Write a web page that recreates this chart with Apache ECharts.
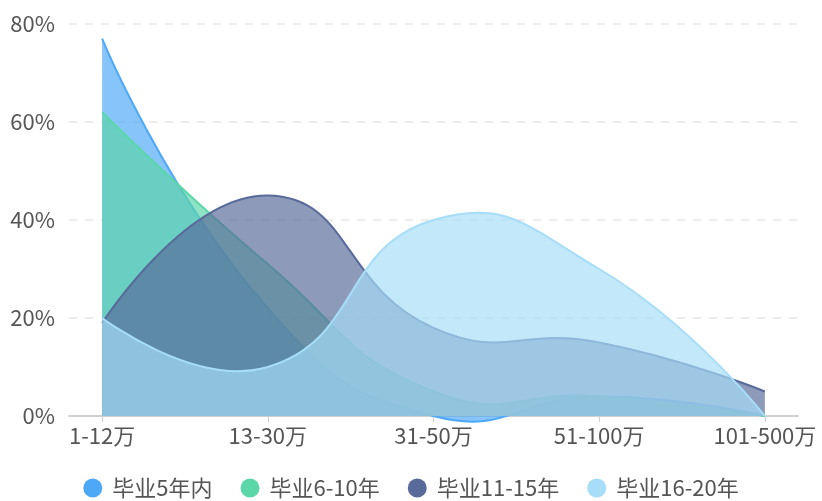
<!DOCTYPE html>
<html>
<head>
<meta charset="utf-8">
<script src="https://cdn.jsdelivr.net/npm/echarts@6/dist/echarts.min.js"></script>
<style>
  html, body { margin: 0; padding: 0; background: #fff; }
  #main { width: 822px; height: 501px; }
</style>
</head>
<body>
<div id="main"></div>
<script>
// 收入区间
var categories = ['1-12万', '13-30万', '31-50万', '51-100万', '101-500万'];
var seriesNames = ['毕业5年内', '毕业6-10年', '毕业11-15年', '毕业16-20年'];
// 各段占比 (%)
var within5 = [77, 22, 0, 4, 0];
var years6to10 = [62, 31, 5, 4, 0];
var years11to15 = [19, 45, 18, 15, 5];
var years16to20 = [20, 10, 40, 30, 0];
var yTicks = [0, 20, 40, 60, 80];

var colors = ['#4DA8F8', '#5BD6A8', '#586A9A', '#A6DDF8'];
var allData = [within5, years6to10, years11to15, years16to20];
var catIdx = categories.map(function (c, i) { return i; });

function toPoints(arr) {
  return arr.map(function (v, i) { return [i, v]; });
}

// 旧版平滑曲线 (允许越过极值)
function smoothPath(pts, smooth) {
  var d = 'M' + pts[0][0] + ',' + pts[0][1];
  var cp0 = pts[0].slice();
  for (var i = 1; i < pts.length; i++) {
    var p = pts[i], prev = pts[i - 1], next = pts[i + 1];
    var cp1, nextCp0;
    if (!next) {
      cp1 = p.slice();
    } else {
      var vx = next[0] - prev[0], vy = next[1] - prev[1];
      var lp = Math.hypot(p[0] - prev[0], p[1] - prev[1]);
      var ln = Math.hypot(next[0] - p[0], next[1] - p[1]);
      var r = ln / (ln + lp);
      cp1 = [p[0] - vx * smooth * (1 - r), p[1] - vy * smooth * (1 - r)];
      nextCp0 = [p[0] + vx * smooth * r, p[1] + vy * smooth * r];
    }
    d += 'C' + cp0.join(',') + ' ' + cp1.join(',') + ' ' + p.join(',');
    cp0 = nextCp0;
  }
  return d;
}

function makeRender(k) {
  return function (params, api) {
    if (params.dataIndex !== 0) return;
    var pts = allData[k].map(function (v, i) { return api.coord([i, v]); });
    var base = api.coord([0, 0])[1];
    var line = smoothPath(pts, 0.5);
    var first = pts[0], last = pts[pts.length - 1];
    var area = line + 'L' + last[0] + ',' + base + 'L' + first[0] + ',' + base + 'Z';
    return {
      type: 'group',
      children: [
        { type: 'path', shape: { pathData: area }, style: { fill: colors[k], opacity: 0.68 } },
        { type: 'path', shape: { pathData: line }, style: { fill: 'none', stroke: colors[k], lineWidth: 2 } }
      ]
    };
  };
}

var chart = echarts.init(document.getElementById('main'));
chart.setOption({
  animation: false,
  color: colors,
  textStyle: { fontFamily: '"Noto Sans CJK SC", "Noto Sans", sans-serif' },
  grid: { left: 69, right: 24, top: 24, bottom: 85 },
  legend: {
    bottom: -3,
    left: 'center',
    icon: 'circle',
    itemWidth: 19,
    itemHeight: 19,
    itemGap: 28,
    textStyle: { fontSize: 22, color: '#555', padding: [0, 0, 0, 5] },
    data: seriesNames
  },
  xAxis: {
    type: 'value',
    min: -0.2,
    max: 4.2,
    splitLine: { show: false },
    axisLine: { show: true, lineStyle: { color: '#d0d0d0', width: 2 } },
    axisTick: { show: true, customValues: catIdx, length: 6, lineStyle: { color: '#d0d0d0' } },
    axisLabel: {
      customValues: catIdx,
      fontSize: 22,
      color: '#555',
      margin: 9,
      formatter: function (v) { return categories[Math.round(v)]; }
    }
  },
  yAxis: {
    type: 'value',
    min: yTicks[0],
    max: yTicks[yTicks.length - 1],
    interval: 20,
    axisLine: { show: false },
    axisTick: { show: false },
    axisLabel: { fontSize: 22, color: '#555', margin: 14, formatter: '{value}%' },
    splitLine: { lineStyle: { color: '#e6e6e6', type: [8, 8], width: 1.5 } }
  },
  series: seriesNames.map(function (name, k) {
    return {
      name: name,
      type: 'custom',
      itemStyle: { color: colors[k] },
      encode: { x: 0, y: 1 },
      renderItem: makeRender(k),
      data: toPoints(allData[k])
    };
  })
});
</script>
</body>
</html>
